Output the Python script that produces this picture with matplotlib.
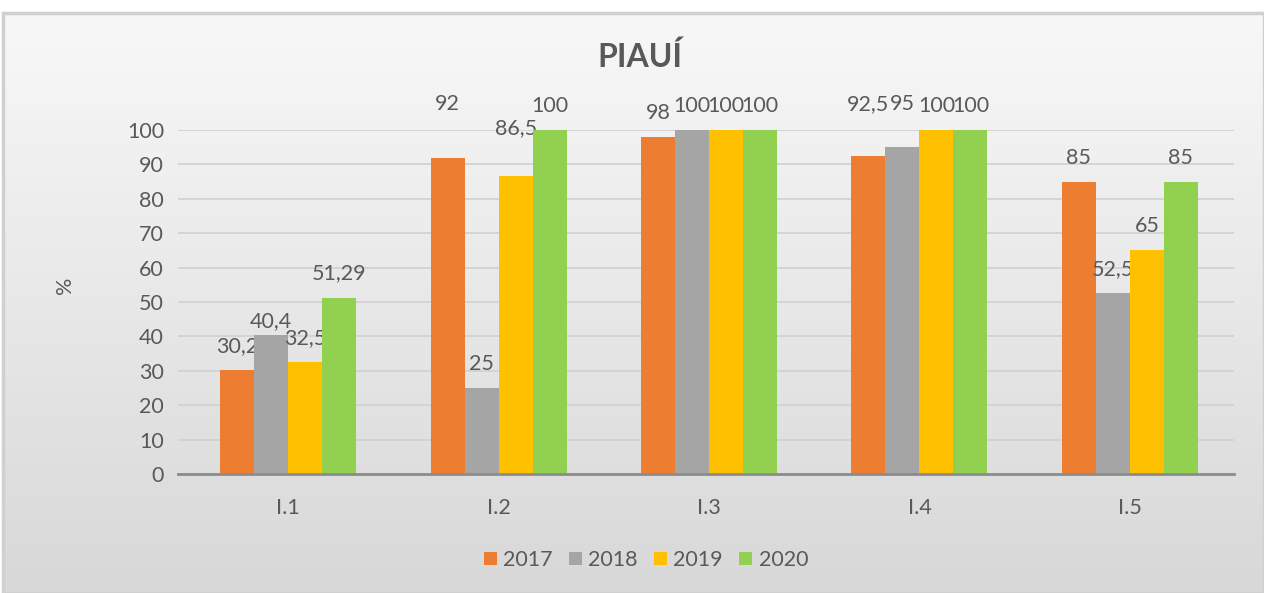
import numpy as np
import matplotlib
matplotlib.use('Agg')
import matplotlib.pyplot as plt
from matplotlib.patches import Rectangle
from matplotlib.colors import LinearSegmentedColormap

plt.rcParams['font.family'] = ['Lato', 'DejaVu Sans']

categories = ['I.1', 'I.2', 'I.3', 'I.4', 'I.5']
years = ['2017', '2018', '2019', '2020']
v2017 = [30.2, 92, 98, 92.5, 85]
v2018 = [40.4, 25, 100, 95, 52.5]
v2019 = [32.5, 86.5, 100, 100, 65]
v2020 = [51.29, 100, 100, 100, 85]
labels2017 = ['30,2', '92', '98', '92,5', '85']
labels2018 = ['40,4', '25', '100', '95', '52,5']
labels2019 = ['32,5', '86,5', '100', '100', '65']
labels2020 = ['51,29', '100', '100', '100', '85']

colors = ['#ED7D31', '#A5A5A5', '#FFC000', '#92D050']
txt = '#595959'

# extra label shift in pixels, keyed (category, series), where excel moved labels
nudge = {(0, 1): -10, (1, 0): 30, (1, 2): 24, (3, 0): 28, (3, 1): 19}

fig = plt.figure(figsize=(12.64, 5.93), dpi=100)
fig.patch.set_facecolor('white')

# chart background gradient
bg = fig.add_axes([3/1264, 0, 1-3/1264, 1-13/593], zorder=-5)
grad = np.linspace(0, 1, 256).reshape(-1, 1)
bg.imshow(grad, aspect='auto', cmap=LinearSegmentedColormap.from_list('g', ['#f8f8f8', '#d8d8d8']),
          extent=[0, 1, 0, 1], origin='upper')
bg.set_xlim(0, 1); bg.set_ylim(0, 1)
bg.axis('off')
bg.add_patch(Rectangle((0, 0), 1, 1, fill=False, ec='#d0d0d0', lw=2.5, transform=bg.transAxes, clip_on=False))

ax = fig.add_axes([178/1264, 1-474/593, (1234-178)/1264, (474-130)/593])
ax.patch.set_alpha(0)

series = [v2017, v2018, v2019, v2020]
labs = [labels2017, labels2018, labels2019, labels2020]
x = np.arange(len(categories))
w = 0.1615
for i, (vals, lb) in enumerate(zip(series, labs)):
    pos = x + (i - 1.5) * w
    ax.bar(pos, vals, width=w, color=colors[i], label=years[i], zorder=3)
    for j, (p, v, s) in enumerate(zip(pos, vals, lb)):
        off = 24 + nudge.get((j, i), 0)
        ax.annotate(s, (p, v), xytext=(0, off), textcoords='offset pixels',
                    ha='center', va='center', fontsize=15.5, color=txt, clip_on=False)

ax.set_xlim(-0.524, 4.495)
ax.set_ylim(0, 100)
ax.set_yticks(range(0, 101, 10))
ax.set_xticks(x)
ax.set_xticklabels(categories)
ax.tick_params(axis='both', length=0, labelsize=15.5, colors=txt)
ax.tick_params(axis='y', pad=10)
ax.tick_params(axis='x', pad=17)
ax.grid(axis='y', color='#d0d0d0', lw=1.2, zorder=0)
for s in ['top', 'right', 'left']:
    ax.spines[s].set_visible(False)
ax.spines['bottom'].set_color('#8c8c8c')
ax.spines['bottom'].set_linewidth(2)
ax.spines['bottom'].set_zorder(4)

fig.text(65/1264, 1-285/593, '%', rotation=90, ha='center', va='center', fontsize=15.5, color=txt)
fig.text(640/1264, 1-57/593, 'PIAUÍ', ha='center', va='center', fontsize=23, fontweight='bold', color=txt)

leg = fig.legend(loc='center', bbox_to_anchor=(646/1264, 1-560/593), ncol=4, frameon=False,
                 fontsize=15.5, handlelength=0.6, handleheight=0.6, handletextpad=0.3, columnspacing=0.75)
for t in leg.get_texts():
    t.set_color(txt)

fig.savefig('out.png', dpi=100)
